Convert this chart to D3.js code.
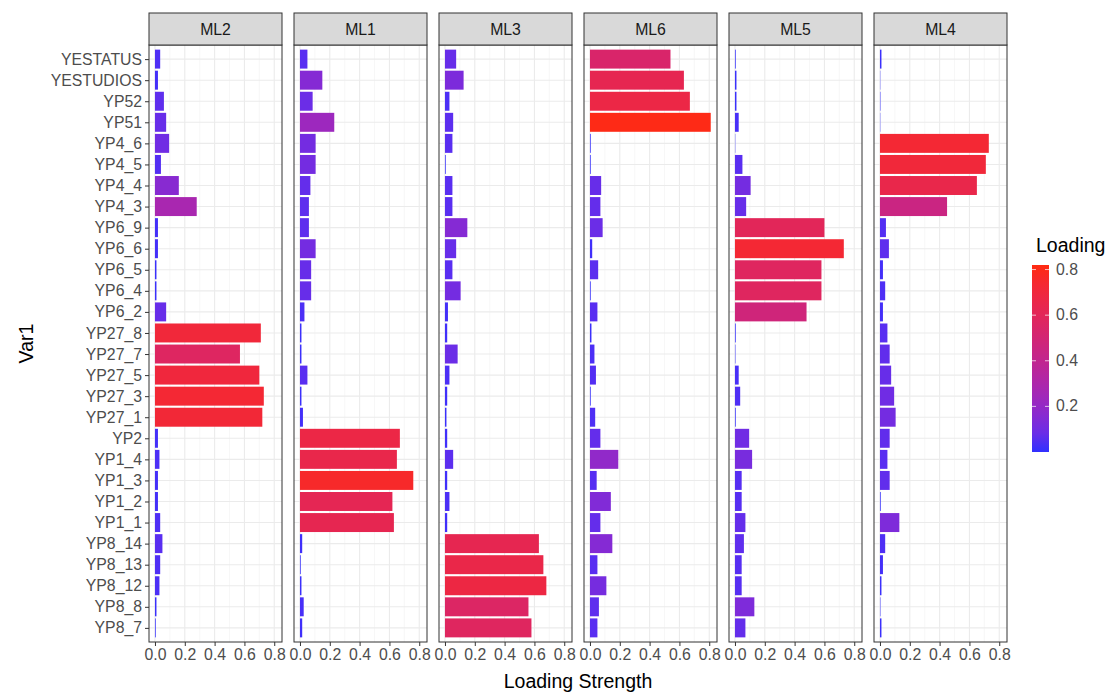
<!DOCTYPE html>
<html><head><meta charset="utf-8">
<script src="https://cdn.jsdelivr.net/npm/d3@7"></script>
<style>body{margin:0;background:#fff}text{font-family:"Liberation Sans",Arial,sans-serif}</style>
</head><body><svg id="c" width="1117" height="693"></svg>
<script>
const vars = ["YESTATUS","YESTUDIOS","YP52","YP51","YP4_6","YP4_5","YP4_4","YP4_3","YP6_9","YP6_6","YP6_5","YP6_4","YP6_2","YP27_8","YP27_7","YP27_5","YP27_3","YP27_1","YP2","YP1_4","YP1_3","YP1_2","YP1_1","YP8_14","YP8_13","YP8_12","YP8_8","YP8_7"];
const factors = ["ML2","ML1","ML3","ML6","ML5","ML4"];
const ML2 = [0.035,0.02,0.06,0.075,0.095,0.04,0.16,0.28,0.02,0.02,0.01,0.01,0.075,0.71,0.57,0.70,0.73,0.72,0.02,0.03,0.02,0.02,0.035,0.05,0.035,0.03,0.01,0.005];
const ML1 = [0.05,0.15,0.085,0.23,0.105,0.105,0.07,0.06,0.06,0.105,0.075,0.075,0.03,0.01,0.01,0.05,0.01,0.02,0.67,0.65,0.76,0.62,0.63,0.015,0.005,0.01,0.025,0.015];
const ML3 = [0.075,0.125,0.03,0.055,0.05,0.005,0.05,0.05,0.15,0.075,0.05,0.105,0.02,0.015,0.085,0.03,0.015,0.01,0.015,0.055,0.015,0.03,0.015,0.63,0.66,0.68,0.56,0.58];
const ML6 = [0.54,0.63,0.67,0.81,0.005,0.005,0.075,0.07,0.085,0.015,0.055,0.005,0.05,0.01,0.03,0.04,0.005,0.035,0.07,0.19,0.045,0.14,0.07,0.15,0.05,0.11,0.06,0.05];
const ML5 = [0.005,0.01,0.01,0.025,0.002,0.05,0.105,0.075,0.60,0.73,0.58,0.58,0.48,0.005,0.003,0.025,0.035,0.005,0.095,0.115,0.045,0.045,0.07,0.06,0.045,0.045,0.13,0.07];
const ML4 = [0.01,0.002,0.003,0.002,0.73,0.71,0.65,0.45,0.04,0.06,0.02,0.035,0.02,0.05,0.065,0.075,0.095,0.105,0.065,0.05,0.065,0.005,0.13,0.035,0.02,0.01,0.003,0.01];
const series = {ML2,ML1,ML3,ML6,ML5,ML4};
const xTicks = [0,0.2,0.4,0.6,0.8];
const legendTicks = [0.2,0.4,0.6,0.8];

const svg = d3.select("#c");
const pTop=45, pBot=642, pw=133, gap=12, left0=149;
const y = d3.scalePoint().domain(vars).range([pTop,pBot]).padding(0.67);
const step = y.step(), bh = step*0.9;
const x = d3.scaleLinear().domain([-0.04,0.852]).range([0,pw]);
const cmin=0.0, cmax=0.82;
const col = d3.scaleLinear().domain([cmin,cmax]).range(["#3030FF","#FF2A10"]).interpolate(d3.interpolateLab).clamp(true);
const fs = 15.8;

factors.forEach((f,i)=>{
  const g = svg.append("g").attr("transform",`translate(${left0+i*(pw+gap)},0)`);
  g.append("rect").attr("x",0).attr("y",pTop).attr("width",pw).attr("height",pBot-pTop).attr("fill","#fff");
  [0.1,0.3,0.5,0.7].forEach(t=>g.append("line").attr("x1",x(t)).attr("x2",x(t)).attr("y1",pTop).attr("y2",pBot).attr("stroke","#f2f2f2").attr("stroke-width",0.6));
  xTicks.forEach(t=>g.append("line").attr("x1",x(t)).attr("x2",x(t)).attr("y1",pTop).attr("y2",pBot).attr("stroke","#ebebeb").attr("stroke-width",1.1));
  vars.forEach(v=>g.append("line").attr("x1",0).attr("x2",pw).attr("y1",y(v)).attr("y2",y(v)).attr("stroke","#ebebeb").attr("stroke-width",1.1));
  g.selectAll("rect.bar").data(series[f]).join("rect").attr("class","bar")
    .attr("x",x(0)).attr("y",(d,j)=>y(vars[j])-bh/2).attr("width",d=>x(d)-x(0)).attr("height",bh).attr("fill",d=>col(d));
  g.append("rect").attr("x",0).attr("y",pTop).attr("width",pw).attr("height",pBot-pTop).attr("fill","none").attr("stroke","#333").attr("stroke-width",1);
  g.append("rect").attr("x",0).attr("y",13).attr("width",pw).attr("height",pTop-13).attr("fill","#d9d9d9").attr("stroke","#333").attr("stroke-width",1);
  g.append("text").attr("x",pw/2).attr("y",(13+pTop)/2+5.5).attr("text-anchor","middle").attr("font-size",fs).attr("fill","#1a1a1a").text(f);
  const ax = g.append("g").attr("transform",`translate(0,${pBot})`).call(d3.axisBottom(x).tickValues(xTicks).tickFormat(d3.format(".1f")).tickSize(4).tickPadding(3));
  ax.select(".domain").remove();
  ax.selectAll("line").attr("stroke","#333");
  ax.selectAll("text").attr("font-size",fs).attr("fill","#4d4d4d");
});
const ay = svg.append("g").attr("transform",`translate(${left0},0)`).call(d3.axisLeft(y).tickSize(4).tickPadding(3));
ay.select(".domain").remove();
ay.selectAll("line").attr("stroke","#333");
ay.selectAll("text").attr("font-size",fs).attr("fill","#4d4d4d");

svg.append("text").attr("x",(left0+left0+6*pw+5*gap)/2).attr("y",688).attr("text-anchor","middle").attr("font-size",19.5).attr("fill","#000").text("Loading Strength");
svg.append("text").attr("transform",`translate(33,${(pTop+pBot)/2}) rotate(-90)`).attr("text-anchor","middle").attr("font-size",19.5).text("Var1");

const lx=1032, ly0=265, ly1=452, lw=17;
svg.append("text").attr("x",1036).attr("y",252).attr("font-size",19.5).text("Loading");
const ls = d3.scaleLinear().domain([cmin,cmax]).range([ly1,ly0]);
const defs = svg.append("defs");
const grad = defs.append("linearGradient").attr("id","lg").attr("x1",0).attr("y1",1).attr("x2",0).attr("y2",0);
d3.range(0,1.0001,0.1).forEach(t=>grad.append("stop").attr("offset",t).attr("stop-color",col(cmin+t*(cmax-cmin))));
svg.append("rect").attr("x",lx).attr("y",ly0).attr("width",lw).attr("height",ly1-ly0).attr("fill","url(#lg)");
legendTicks.forEach(t=>{
  svg.append("line").attr("x1",lx).attr("x2",lx+4).attr("y1",ls(t)).attr("y2",ls(t)).attr("stroke","#fff").attr("stroke-opacity",0.7);
  svg.append("line").attr("x1",lx+lw-4).attr("x2",lx+lw).attr("y1",ls(t)).attr("y2",ls(t)).attr("stroke","#fff").attr("stroke-opacity",0.7);
  svg.append("text").attr("x",lx+lw+7).attr("y",ls(t)+5).attr("font-size",fs).attr("fill","#4d4d4d").text(t.toFixed(1));
});
</script></body></html>
